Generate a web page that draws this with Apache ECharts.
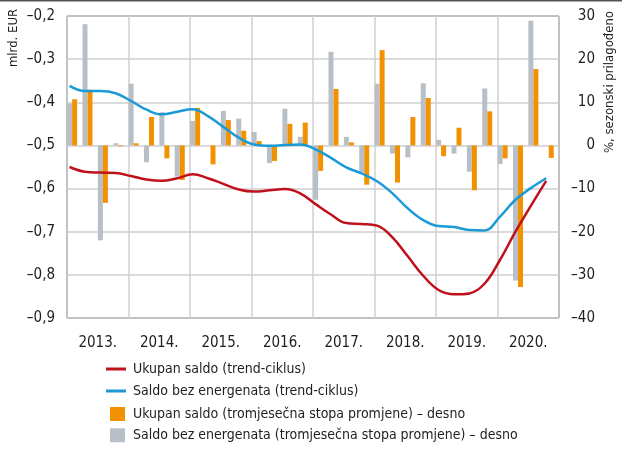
<!DOCTYPE html>
<html>
<head>
<meta charset="utf-8">
<script src="https://cdn.jsdelivr.net/npm/echarts@6/dist/echarts.min.js"></script>
<style>
  html, body { margin: 0; padding: 0; background: #fff; }
  #chart { width: 622px; height: 450px; }
</style>
</head>
<body>
<div id="chart"></div>
<script>
// godine (oznake na osi x)
const years = ['2013.', '2014.', '2015.', '2016.', '2017.', '2018.', '2019.', '2020.']

// trend-ciklus, mlrd. EUR (lijeva os), jedna točka po tromjesečju
const saldoTrend = [
  -0.550, -0.561, -0.563, -0.564, -0.571, -0.579, -0.582, -0.576,
  -0.567, -0.576, -0.589, -0.602, -0.607, -0.604, -0.601, -0.611,
  -0.636, -0.660, -0.680, -0.682, -0.686, -0.713, -0.757, -0.802,
  -0.835, -0.845, -0.843, -0.820, -0.765, -0.700, -0.640, -0.582
]
const bezEnergTrend = [
  -0.362, -0.374, -0.374, -0.379, -0.397, -0.417, -0.428, -0.422,
  -0.416, -0.432, -0.457, -0.482, -0.498, -0.501, -0.499, -0.498,
  -0.509, -0.529, -0.551, -0.565, -0.583, -0.611, -0.646, -0.673,
  -0.687, -0.689, -0.696, -0.697, -0.665, -0.626, -0.599, -0.576
]

// tromjesečna stopa promjene, % (desna os)
const saldoRate = [
  10.7, 12.9, -13.3, -0.2,
  0.5, 6.6, -3.0, -8.0,
  8.7, -4.4, 5.9, 3.4,
  1.0, -3.6, 5.0, 5.3,
  -5.9, 13.1, 0.7, -9.1,
  22.1, -8.6, 6.6, 11.0,
  -2.5, 4.1, -10.4, 7.9,
  -3.0, -32.8, 17.7, -2.9
]
const bezEnergRate = [
  9.7, 28.1, -22.0, 0.5,
  14.3, -3.9, 7.7, -7.2,
  5.7, 0, 8.0, 6.2,
  3.1, -4.1, 8.5, 2.0,
  -12.6, 21.7, 2.0, -6.2,
  14.3, -1.9, -2.8, 14.4,
  1.3, -1.9, -6.1, 13.2,
  -4.3, -31.3, 28.9, null
]

const FONT = '"DejaVu Sans Condensed", "Liberation Sans Narrow", sans-serif'
const TXT = '#1e1e1e'

// mjeseci od početka 2013.
const lineX = i => i * 3 + 0.5
const barX = i => i * 3 + 1

const minus = s => s.replace('-', '\u2013')

const chart = echarts.init(document.getElementById('chart'), null, { renderer: 'canvas' })

const option = {
  animation: false,
  grid: {
    left: 67, right: 63, top: 16, bottom: 132,
    show: true, borderColor: '#3a3a3a', borderWidth: 1
  },
  xAxis: [
    {
      type: 'category',
      data: years,
      boundaryGap: true,
      axisLine: { show: false },
      axisTick: { show: false },
      axisLabel: { margin: 18, color: TXT, fontFamily: FONT, fontSize: 15 },
      splitLine: { show: true, interval: 0, lineStyle: { color: '#cfcfcf', width: 1.5 } }
    },
    {
      type: 'value',
      min: 0, max: 96,
      show: false
    }
  ],
  yAxis: [
    {
      type: 'value',
      min: -0.9, max: -0.2, interval: 0.1,
      axisLine: { show: false },
      axisTick: { show: false },
      axisLabel: {
        margin: 12, color: TXT, fontFamily: FONT, fontSize: 15,
        formatter: v => minus(v.toFixed(1).replace('.', ','))
      },
      splitLine: { lineStyle: { color: '#cfcfcf', width: 1.5 } }
    },
    {
      type: 'value',
      min: -40, max: 30, interval: 10,
      axisLine: { show: false },
      axisTick: { show: false },
      axisLabel: {
        margin: 36, align: 'right', color: TXT, fontFamily: FONT, fontSize: 15,
        formatter: v => minus(String(v))
      },
      splitLine: { show: false }
    }
  ],
  legend: [
    {
      orient: 'vertical', left: 106, top: 359, padding: 0,
      icon: 'rect', itemWidth: 20, itemHeight: 3, itemGap: 2,
      textStyle: { color: TXT, fontFamily: FONT, fontSize: 14, lineHeight: 20, padding: [0, 0, 0, 2] },
      data: ['Ukupan saldo (trend-ciklus)', 'Saldo bez energenata (trend-ciklus)']
    },
    {
      orient: 'vertical', left: 110, top: 404, padding: 0,
      icon: 'rect', itemWidth: 15, itemHeight: 14, itemGap: 1.3,
      textStyle: { color: TXT, fontFamily: FONT, fontSize: 14, lineHeight: 20, padding: [0, 0, 0, 3] },
      data: ['Ukupan saldo (tromjesečna stopa promjene) – desno', 'Saldo bez energenata (tromjesečna stopa promjene) – desno']
    }
  ],
  graphic: [
    {
      type: 'text', x: 14, y: 38, rotation: Math.PI / 2,
      style: { text: 'mlrd. EUR', fill: TXT, font: '13px ' + FONT, textAlign: 'center', textVerticalAlign: 'middle' }
    },
    {
      type: 'text', x: 610, y: 82, rotation: Math.PI / 2,
      style: { text: '%, sezonski prilagođeno', fill: TXT, font: '13px ' + FONT, textAlign: 'center', textVerticalAlign: 'middle' }
    },
    {
      type: 'rect', shape: { x: 0, y: 0, width: 622, height: 1.5 },
      style: { fill: '#555' }
    }
  ],
  series: [
    {
      name: 'Saldo bez energenata (tromjesečna stopa promjene) – desno',
      type: 'bar',
      xAxisIndex: 1, yAxisIndex: 1,
      barWidth: 5, barGap: '0%',
      itemStyle: { color: '#b8bfc6' },
      data: bezEnergRate.map((v, i) => [barX(i), v])
    },
    {
      name: 'Ukupan saldo (tromjesečna stopa promjene) – desno',
      type: 'bar',
      xAxisIndex: 1, yAxisIndex: 1,
      barWidth: 5, barGap: '0%',
      itemStyle: { color: '#f39200' },
      data: saldoRate.map((v, i) => [barX(i), v])
    },
    {
      name: 'Ukupan saldo (trend-ciklus)',
      type: 'line',
      xAxisIndex: 1, yAxisIndex: 0,
      smooth: 0.4, symbol: 'none', z: 5,
      lineStyle: { color: '#c0101c', width: 2.5 },
      itemStyle: { color: '#c0101c' },
      data: saldoTrend.map((v, i) => [lineX(i), v])
    },
    {
      name: 'Saldo bez energenata (trend-ciklus)',
      type: 'line',
      xAxisIndex: 1, yAxisIndex: 0,
      smooth: 0.4, symbol: 'none', z: 5,
      lineStyle: { color: '#1a9ad6', width: 2.5 },
      itemStyle: { color: '#1a9ad6' },
      data: bezEnergTrend.map((v, i) => [lineX(i), v])
    }
  ]
}

chart.setOption(option)
</script>
</body>
</html>
